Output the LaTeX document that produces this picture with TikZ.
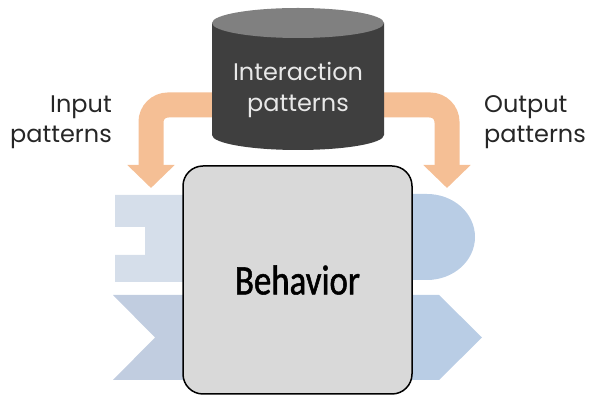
\documentclass[tikz,border=0pt]{standalone}
\usepackage{fontspec}
\setmainfont{Poppins}
\newfontfamily\behfont[FakeStretch=0.83, FakeBold=1.2]{Carlito}
\usetikzlibrary{arrows.meta,positioning}
\definecolor{peach}{RGB}{245,191,149}
\definecolor{dbdark}{RGB}{63,63,63}
\definecolor{dbtopc}{RGB}{128,128,128}
\definecolor{dbtext}{RGB}{232,232,232}
\definecolor{paleblue}{RGB}{213,222,234}
\definecolor{greyblue}{RGB}{193,205,224}
\definecolor{midblue}{RGB}{185,205,229}
\definecolor{boxgray}{RGB}{217,217,217}
\definecolor{labtext}{RGB}{38,38,38}
\tikzset{
  band/.style={peach, line width=25pt, rounded corners=17pt,
               -{Triangle[length=23pt, width=46pt]}},
  lab/.style={font=\fontsize{24}{30}\selectfont, text=labtext, inner sep=0pt},
  dblab/.style={font=\fontsize{24}{31}\selectfont, text=dbtext, inner sep=0pt, align=center},
  behbox/.style={draw=black, line width=1.5pt, fill=boxgray, rounded corners=20pt,
                 minimum width=229pt, minimum height=228pt, inner sep=0pt,
                 font=\behfont\fontsize{42}{42}\selectfont},
}

\begin{document}
\begin{tikzpicture}[x=1pt, y=1pt]
  \useasboundingbox (0,0) rectangle (590,396);
  % flow bands behind the store
  \coordinate (dbmid) at (298,291);
  \coordinate (intip) at (151,208);
  \coordinate (outtip) at (447,208);
  \draw[band] (dbmid) -| (intip);
  \draw[band] (dbmid) -| (outtip);
  % pattern store
  \fill[dbdark] (212,373) -- (212,261)
     arc[start angle=180, end angle=360, x radius=86, y radius=15] -- (384,373) -- cycle;
  \fill[dbtopc] (298,373) ellipse[x radius=86, y radius=15];
  \node[dblab] (db) at (298,306) {Interaction\\patterns};
  \node[lab, anchor=east, align=right] (inlab) at (112,274) {Input\\patterns};
  \node[lab, anchor=west, align=left] (outlab) at (484,274) {Output\\patterns};
  % port shapes
  \fill[paleblue] (115,201) -- (200,201) -- (200,114) -- (115,114) -- (115,141)
     -- (145,141) -- (145,169) -- (115,169) -- cycle;
  \fill[greyblue] (113,101) -- (200,101) -- (200,16) -- (113,16) -- (155,58.5) -- cycle;
  \fill[midblue] (400,202) -- (427,202)
     arc[start angle=90, end angle=-90, x radius=48, y radius=43] -- (400,116) -- cycle;
  \fill[midblue] (400,101) -- (439,101) -- (482,58.5) -- (439,16) -- (400,16) -- cycle;
  % behavior
  \node[behbox] (beh) at (297.5,116) {Behavior};
\end{tikzpicture}
\end{document}
